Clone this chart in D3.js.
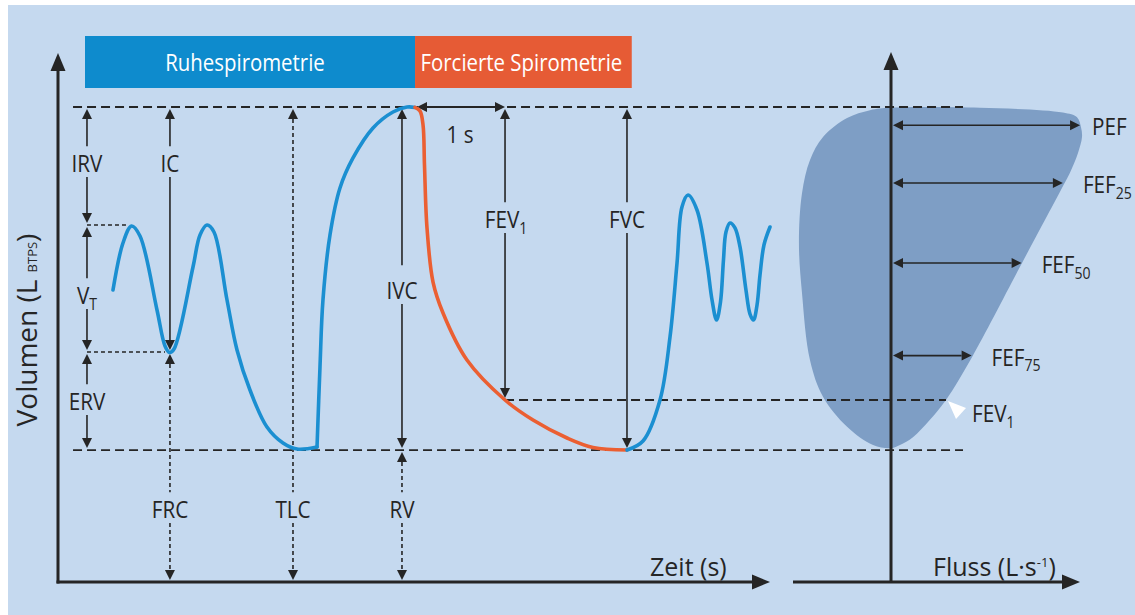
<!DOCTYPE html>
<html>
<head>
<meta charset="utf-8">
<script src="https://cdn.jsdelivr.net/npm/d3@7/dist/d3.min.js"></script>
<style>
  body { margin: 0; background: #fff; }
  svg { display: block; }
</style>
</head>
<body>
<script>
// Spirogram, volume (L) over time (s)
// tidal breathing and maximal expiration
const restTime = [0.611, 0.722, 0.817, 0.911, 1.100, 1.189, 1.239, 1.289, 1.500, 1.578, 1.656, 1.733, 1.878, 1.989, 2.133, 2.322, 2.500, 2.656, 2.878];
const restVol  = [3.688, 4.282, 4.497, 4.371, 3.436, 2.981, 2.899, 2.943, 3.979, 4.383, 4.509, 4.421, 3.562, 2.931, 2.425, 1.958, 1.756, 1.680, 1.705];

// maximal inspiration
const inspTime = [2.878, 2.911, 2.944, 3.022, 3.133, 3.278, 3.500, 3.722, 3.878, 3.967];
const inspVol  = [1.705, 2.716, 3.562, 4.383, 4.977, 5.356, 5.735, 5.937, 6.000, 5.994];

// forced expiration
const forcedTime = [3.967, 4.022, 4.056, 4.072, 4.100, 4.167, 4.278, 4.544, 4.967, 5.278, 5.656, 5.944, 6.322];
const forcedVol  = [5.994, 5.949, 5.773, 5.267, 4.472, 3.789, 3.398, 2.804, 2.299, 2.046, 1.819, 1.699, 1.667];

// recovery breathing
const recoveryTime = [6.322, 6.500, 6.689, 6.800, 6.878, 6.933, 7.000, 7.100, 7.211, 7.267, 7.317, 7.361, 7.394, 7.422, 7.467, 7.522, 7.578, 7.644, 7.689, 7.728, 7.767, 7.800, 7.844, 7.911];
const recoveryVol  = [1.667, 1.781, 2.299, 3.095, 4.029, 4.737, 4.888, 4.699, 4.029, 3.562, 3.309, 3.537, 4.067, 4.421, 4.535, 4.472, 4.232, 3.688, 3.385, 3.309, 3.499, 3.878, 4.257, 4.484];

// Flow-volume loop, flow (L/s) vs volume (L)
const loopFlow = [0, 4.66, 9.0, 9.74, 9.95, 10.0, 9.79, 9.37, 9.0, 6.86, 4.24, 2.88, 2.04, 1.15, 0.47, 0, -0.94, -2.30, -3.56, -4.24, -4.66, -4.82, -4.66, -4.24, -3.56, -2.30, -1.10];
const loopVol  = [5.99, 5.99, 5.93, 5.87, 5.74, 5.62, 5.42, 5.17, 5.0, 4.03, 2.84, 2.30, 2.05, 1.83, 1.73, 1.69, 1.73, 1.96, 2.34, 2.80, 3.65, 4.28, 4.91, 5.33, 5.62, 5.86, 5.96];

// lung volume levels (L)
const levelNames = ["TLC", "VT", "FRC", "FEV1", "RV"];
const levelVol   = [6.0, 4.51, 2.905, 2.299, 1.667];

// measured volumes: column time and top/bottom volume
const measureNames  = ["IRV", "VT", "ERV", "IC", "FRC", "TLC", "IVC", "RV", "FEV1", "FVC"];
const measureTime   = [0.322, 0.322, 0.322, 1.244, 1.244, 2.611, 3.822, 3.822, 4.967, 6.322];
const measureTop    = [6.0, 4.51, 2.905, 6.0, 2.905, 6.0, 6.0, 1.667, 6.0, 6.0];
const measureBottom = [4.51, 2.905, 1.667, 2.905, 0, 0, 1.667, 0, 2.299, 1.667];
const measureDotted = ["FRC", "TLC", "RV"];

// flow markers on the loop
const flowNames = ["PEF", "FEF", "FEF", "FEF"];
const flowSubs  = ["", "25", "50", "75"];
const flowValue = [9.9, 9.0, 6.84, 4.22];
const flowVol   = [5.77, 5.04, 4.03, 2.86];

// phases of the measurement
const phaseNames = ["Ruhespirometrie", "Forcierte Spirometrie"];
const phaseStart = [0.3, 3.967];
const phaseEnd   = [3.967, 6.375];

// colours
const BG = "#c5d9ef";
const INK = "#252525";
const BLUE = "#1b8fd1";
const ORANGE = "#eb5f32";
const LOOP = "#7e9ec5";

const W = 1135, H = 615;

const x = d3.scaleLinear().domain([0, 7.9]).range([58, 769]);
const y = d3.scaleLinear().domain([0, 6]).range([582, 107]);
const f = d3.scaleLinear().domain([0, 10]).range([891, 1082]);

const svg = d3.select("body").append("svg")
    .attr("width", W)
    .attr("height", H)
    .attr("font-family", "'Open Sans', sans-serif");

svg.append("rect").attr("width", W).attr("height", H).attr("fill", "#fff");
svg.append("rect").attr("x", 8).attr("y", 5).attr("width", W - 8).attr("height", H - 5).attr("fill", BG);

// Helpers
function arrowHead(g, px, py, dir, len = 10, hw = 5) {
    let pts;
    if (dir === "up") pts = [[px, py], [px - hw, py + len], [px + hw, py + len]];
    if (dir === "down") pts = [[px, py], [px - hw, py - len], [px + hw, py - len]];
    if (dir === "left") pts = [[px, py], [px + len, py - hw], [px + len, py + hw]];
    if (dir === "right") pts = [[px, py], [px - len, py - hw], [px - len, py + hw]];
    g.append("path").attr("d", "M" + pts.join("L") + "Z").attr("fill", INK);
}

function label(g, px, yb, parts, { size = 23.5, sx = 0.88, anchor = "middle", fill = INK } = {}) {
    const t = g.append("text")
        .attr("transform", `translate(${px},${yb}) scale(${sx},1)`)
        .attr("text-anchor", anchor)
        .attr("font-size", size)
        .attr("fill", fill);
    let shift = 0;
    parts.forEach(p => {
        const ts = t.append("tspan");
        if (typeof p === "string") {
            ts.attr("dy", -shift).text(p);
            shift = 0;
        } else if (p.sub) {
            const d = size * 0.24;
            ts.attr("dy", d - shift).attr("font-size", size * 0.68).text(p.sub);
            shift = d;
        } else if (p.sup) {
            const d = -size * 0.36;
            ts.attr("dy", d - shift).attr("font-size", size * 0.52).text(p.sup);
            shift = d;
        }
    });
    return t;
}

function parts(name, sub) {
    if (name === "VT") return ["V", { sub: "T" }];
    if (name === "FEV1") return ["FEV", { sub: "1" }];
    return sub ? [name, { sub }] : [name];
}

// Flow-volume loop
const loopLine = d3.line()
    .x(d => f(d[0]))
    .y(d => y(d[1]))
    .curve(d3.curveCatmullRomClosed.alpha(0.5));

svg.append("path")
    .attr("d", loopLine(d3.zip(loopFlow, loopVol)))
    .attr("fill", LOOP);

// Dashed level lines
const dashG = svg.append("g")
    .attr("stroke", INK)
    .attr("stroke-width", 1.8)
    .attr("stroke-dasharray", "9,5");

[levelVol[0], levelVol[4]].forEach(v => {
    dashG.append("line")
        .attr("x1", x(0.167)).attr("x2", f(3.77))
        .attr("y1", y(v)).attr("y2", y(v));
});
dashG.append("line")
    .attr("x1", x(measureTime[8])).attr("x2", f(2.88))
    .attr("y1", y(levelVol[3])).attr("y2", y(levelVol[3]));

// short dotted guides at tidal top and FRC
const dotG = svg.append("g")
    .attr("stroke", INK)
    .attr("stroke-width", 1.6)
    .attr("stroke-dasharray", "4,3");
dotG.append("line").attr("x1", x(0.322)).attr("x2", x(0.778)).attr("y1", y(levelVol[1])).attr("y2", y(levelVol[1]));
dotG.append("line").attr("x1", x(0.322)).attr("x2", x(1.189)).attr("y1", y(levelVol[2])).attr("y2", y(levelVol[2]));

// Phase banner
const bannerFill = ["#0e8bcd", "#e65b35"];
const bannerShift = [-5, -2];
phaseNames.forEach((name, i) => {
    svg.append("rect")
        .attr("x", x(phaseStart[i]))
        .attr("y", 36)
        .attr("width", x(phaseEnd[i]) - x(phaseStart[i]))
        .attr("height", 52)
        .attr("fill", bannerFill[i]);
    label(svg, (x(phaseStart[i]) + x(phaseEnd[i])) / 2 + bannerShift[i], 71, [name],
        { size: 24, sx: 0.85, fill: "#fff" });
});

// Volume measures
const labelBase = { IRV: 172, VT: 304, ERV: 410, IC: 172, FRC: 518, TLC: 518, IVC: 299, RV: 518, FEV1: 228, FVC: 228 };
const gapAbove = { IVC: 17 };
const measG = svg.append("g");
measureNames.forEach((name, i) => {
    const px = x(measureTime[i]);
    const yTop = y(measureTop[i]) + 2;
    const yBot = y(measureBottom[i]) - 2;
    const yb = labelBase[name];
    const capH = 23.5 * 0.714;
    const gTop = yb - capH - (gapAbove[name] || 9);
    const gBot = yb + 5;
    const dotted = measureDotted.includes(name);
    [[yTop + 10, gTop], [gBot, yBot - 10]].forEach(([a, b]) => {
        if (b <= a) return;
        measG.append("line")
            .attr("x1", px).attr("x2", px)
            .attr("y1", a).attr("y2", b)
            .attr("stroke", INK)
            .attr("stroke-width", 1.6)
            .attr("stroke-dasharray", dotted ? "4,3" : null);
    });
    arrowHead(measG, px, yTop, "up");
    arrowHead(measG, px, yBot, "down");
    label(measG, px + (name === "FEV1" ? 1 : 0), yb, parts(name));
});

// 1 s interval
const oneStart = x(forcedTime[0]);
const oneEnd = x(measureTime[8]);
measG.append("line")
    .attr("x1", oneStart + 10).attr("x2", oneEnd - 10)
    .attr("y1", y(6)).attr("y2", y(6))
    .attr("stroke", INK).attr("stroke-width", 1.8);
arrowHead(measG, oneStart + 2, y(6), "left");
arrowHead(measG, oneEnd, y(6), "right");
label(measG, (oneStart + oneEnd) / 2, 143, ["1 s"]);

// Spirogram curves
const curve = d3.line()
    .x(d => x(d[0]))
    .y(d => y(d[1]))
    .curve(d3.curveCatmullRom.alpha(0.5));

[[restTime, restVol, BLUE], [inspTime, inspVol, BLUE], [forcedTime, forcedVol, ORANGE], [recoveryTime, recoveryVol, BLUE]].forEach(([t, v, c]) => {
    svg.append("path")
        .attr("d", curve(d3.zip(t, v)))
        .attr("fill", "none")
        .attr("stroke", c)
        .attr("stroke-width", 3.6)
        .attr("stroke-linejoin", "round")
        .attr("stroke-linecap", "round");
});

// Flow markers
const flowG = svg.append("g");
flowNames.forEach((name, i) => {
    const yy = y(flowVol[i]);
    const tip = f(flowValue[i]);
    flowG.append("line")
        .attr("x1", f(0) + 12).attr("x2", tip - 10)
        .attr("y1", yy).attr("y2", yy)
        .attr("stroke", INK).attr("stroke-width", 1.6);
    arrowHead(flowG, f(0) + 2, yy, "left");
    arrowHead(flowG, tip, yy, "right");
    label(flowG, tip + (i === 0 ? 12 : 20), yy + 10, parts(name, flowSubs[i]), { anchor: "start" });
});

// FEV1 pointer on the loop
const fevX = f(2.88), fevY = y(levelVol[3]);
flowG.append("path")
    .attr("d", `M${fevX + 2},${fevY + 1}L${fevX + 20},${fevY + 8}L${fevX + 10},${fevY + 19}Z`)
    .attr("fill", "#fff");
label(flowG, fevX + 26, fevY + 22, ["FEV", { sub: "1" }], { anchor: "start" });

// Axes
const axG = svg.append("g");
const x0 = x(0), y0 = y(0);
axG.append("line").attr("x1", x0).attr("x2", x0).attr("y1", y0 + 1.5).attr("y2", 70)
    .attr("stroke", INK).attr("stroke-width", 3);
arrowHead(axG, x0, 53, "up", 18, 7.5);
axG.append("line").attr("x1", x0 - 1.5).attr("x2", 753).attr("y1", y0).attr("y2", y0)
    .attr("stroke", INK).attr("stroke-width", 3);
arrowHead(axG, 770, y0, "right", 18, 7.5);

axG.append("line").attr("x1", 793).attr("x2", 1063).attr("y1", y0).attr("y2", y0)
    .attr("stroke", INK).attr("stroke-width", 3);
arrowHead(axG, 1080, y0, "right", 18, 7.5);
axG.append("line").attr("x1", f(0)).attr("x2", f(0)).attr("y1", y0).attr("y2", 69)
    .attr("stroke", INK).attr("stroke-width", 3);
arrowHead(axG, f(0), 52, "up", 18, 7.5);

label(axG, 650, 576, ["Zeit (s)"], { size: 25, sx: 1, anchor: "start" });
label(axG, 933, 576, ["Fluss (L·s", { sup: "-1" }, ")"], { size: 25, sx: 1, anchor: "start" });

const yLab = axG.append("text")
    .attr("transform", "translate(37,330) rotate(-90)")
    .attr("text-anchor", "middle")
    .attr("font-size", 28)
    .attr("fill", INK);
yLab.append("tspan").text("Volumen (L ");
yLab.append("tspan").attr("font-size", 13).text("BTPS");
yLab.append("tspan").text(")");
</script>
</body>
</html>
